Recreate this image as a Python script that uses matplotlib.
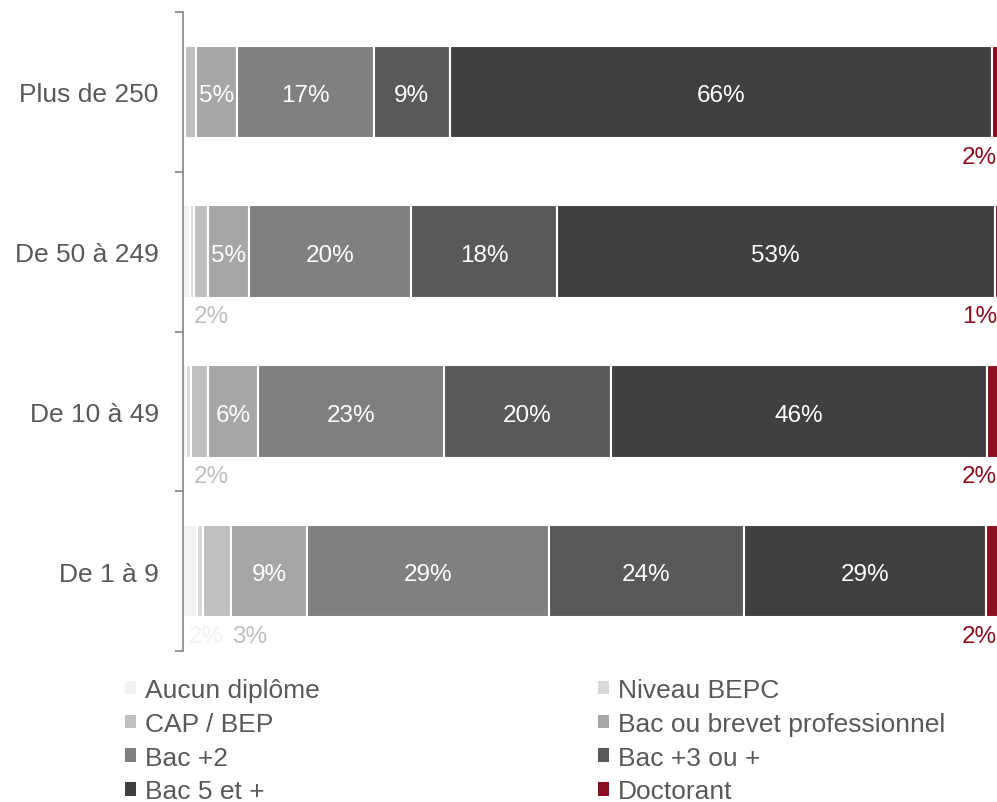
import matplotlib
matplotlib.use("Agg")
import matplotlib.pyplot as plt
from matplotlib.patches import Patch
import numpy as np

plt.rcParams['font.family'] = ['Liberation Sans', 'DejaVu Sans']

categories = ["Plus de 250", "De 50 à 249", "De 10 à 49", "De 1 à 9"]

series = ["Aucun diplôme", "Niveau BEPC", "CAP / BEP", "Bac ou brevet professionnel",
          "Bac +2", "Bac +3 ou +", "Bac 5 et +", "Doctorant"]
colors = ["#f2f2f2", "#d9d9d9", "#bfbfbf", "#a6a6a6",
          "#808080", "#595959", "#404040", "#8c0f20"]

aucun = [0.1, 0.8, 0.4, 1.7]
bepc = [0.2, 0.6, 0.6, 0.8]
cap = [1.3, 1.6, 2.0, 3.4]
bacpro = [5.0, 5.1, 6.2, 9.3]
bac2 = [16.7, 19.8, 22.7, 29.5]
bac3 = [9.3, 17.8, 20.4, 23.9]
bac5 = [66.3, 53.5, 46.0, 29.6]
doct = [2.0, 0.8, 2.0, 1.8]
values = [aucun, bepc, cap, bacpro, bac2, bac3, bac5, doct]

# labels inside the bars
lab_bacpro = ["5%", "5%", "6%", "9%"]
lab_bac2 = ["17%", "20%", "23%", "29%"]
lab_bac3 = ["9%", "18%", "20%", "24%"]
lab_bac5 = ["66%", "53%", "46%", "29%"]
inside = {3: lab_bacpro, 4: lab_bac2, 5: lab_bac3, 6: lab_bac5}

# small labels under the bars: (row, series index, text, x)
below = [(0, 7, "2%", 99.5), (1, 7, "1%", 99.5), (2, 7, "2%", 99.5), (3, 7, "2%", 99.5),
         (1, 2, "2%", 3.5), (2, 2, "2%", 3.5), (3, 0, "2%", 2.8), (3, 2, "3%", 8.1)]

fig = plt.figure(figsize=(9.97, 8.03), dpi=100)
ax = fig.add_axes([183 / 997, 151 / 803, 814 / 997, 639 / 803])

y = np.arange(len(categories))
left = np.zeros(len(categories))
for i, vals in enumerate(values):
    ax.barh(y, vals, left=left, height=0.58, color=colors[i],
            edgecolor="white", linewidth=1.5)
    if i in inside:
        for j, t in enumerate(inside[i]):
            ax.text(left[j] + vals[j] / 2, y[j] + 0.005, t, ha="center",
                    va="center_baseline", color="white", fontsize=17.5)
    left = left + np.array(vals)

for row, s, t, x in below:
    ha = "right" if s == 7 else "center"
    ax.text(x, y[row] + 0.39, t, ha=ha, va="center_baseline", color=colors[s],
            fontsize=17.5)

ax.set_xlim(0, 99.5)
ax.set_ylim(3.5, -0.5)
ax.set_yticks(y)
ax.set_yticklabels(categories, fontsize=19, color="#595959", va="center_baseline")
ax.set_yticks(np.arange(-0.5, 4, 1), minor=True)
ax.tick_params(axis="y", which="major", length=0, pad=17.5)
ax.tick_params(axis="y", which="minor", length=6, width=1.2, color="#848484")
ax.set_xticks([])
for sp in ["top", "right", "bottom"]:
    ax.spines[sp].set_visible(False)
ax.spines["left"].set_color("#848484")
ax.spines["left"].set_linewidth(1.2)

handles = [Patch(facecolor=c, edgecolor="none") for c in colors]
kw = dict(frameon=False, fontsize=19, handlelength=0.42, handleheight=0.42,
          handletextpad=0.34, labelspacing=0.37, borderpad=0, borderaxespad=0,
          loc="upper left", labelcolor="#595959")
leg1 = fig.legend([handles[k] for k in (0, 2, 4, 6)], [series[k] for k in (0, 2, 4, 6)],
                  bbox_to_anchor=(125 / 997, 1 - 679 / 803), **kw)
leg2 = fig.legend([handles[k] for k in (1, 3, 5, 7)], [series[k] for k in (1, 3, 5, 7)],
                  bbox_to_anchor=(598 / 997, 1 - 679 / 803), **kw)

fig.savefig("out.png", dpi=100)
